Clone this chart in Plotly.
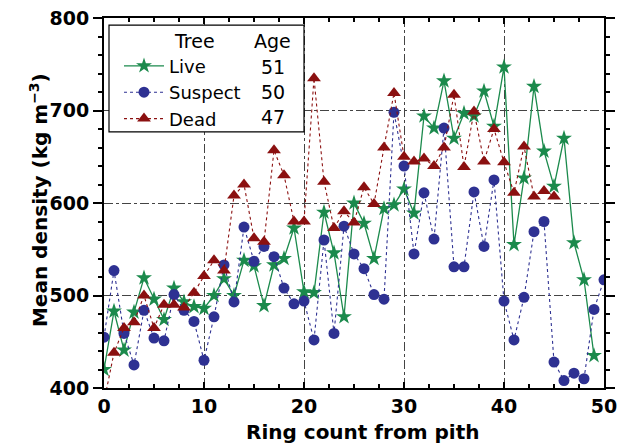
import plotly.graph_objects as go

rings_live = list(range(0, 50))
live = [420, 483, 441, 482, 519, 496, 474, 508, 493, 488,
        486, 500, 518, 500, 538, 532, 489, 533, 540, 573,
        504, 503, 590, 546, 477, 600, 578, 540, 594, 598,
        615, 589, 694, 681, 732, 670, 697, 694, 721, 683,
        747, 555, 627, 726, 656, 618, 670, 557, 517, 435]

rings_suspect = list(range(0, 51))
suspect = [455, 527, 459, 425, 484, 454, 451, 501, 484, 472,
           430, 477, 533, 493, 574, 537, 553, 542, 508, 491,
           494, 452, 560, 459, 575, 545, 529, 501, 496, 698,
           640, 545, 611, 561, 681, 531, 531, 612, 553, 625,
           494, 452, 498, 569, 580, 428, 408, 416, 410, 485, 517]

rings_dead = list(range(0, 46))
dead = [385, 438, 465, 471, 500, 465, 490, 490, 487, 503,
        521, 538, 527, 608, 620, 562, 558, 657, 630, 580,
        580, 735, 623, 573, 591, 579, 617, 599, 660, 719,
        650, 645, 648, 640, 660, 717, 639, 699, 645, 680,
        644, 611, 661, 607, 613, 607]

names = ["Live", "Suspect", "Dead"]
ages = ["51", "50", "47"]
x_title = "Ring count from pith"
y_title = "Mean density (kg m<sup>−3</sup>)"

GREEN = "#1b8a4c"
BLUE = "#2e3192"
RED = "#8b1010"

fig = go.Figure()
fig.add_trace(go.Scatter(x=rings_live, y=live, name=names[0], mode="lines+markers",
                         line=dict(color=GREEN, width=1.3),
                         marker=dict(symbol="star", size=12, color=GREEN)))
fig.add_trace(go.Scatter(x=rings_suspect, y=suspect, name=names[1], mode="lines+markers",
                         line=dict(color=BLUE, width=1.1, dash="dot"),
                         marker=dict(symbol="circle", size=11, color=BLUE)))
fig.add_trace(go.Scatter(x=rings_dead, y=dead, name=names[2], mode="lines+markers",
                         line=dict(color=RED, width=1.1, dash="dot"),
                         marker=dict(symbol="triangle-up", size=12, color=RED)))

tickfont = dict(family="DejaVu Sans", size=19, color="black", weight="bold")
grid = dict(showgrid=True, gridcolor="#444444", griddash="dashdot", gridwidth=1)

fig.update_layout(
    width=624, height=445,
    margin=dict(l=104, r=20, t=18, b=57),
    paper_bgcolor="white", plot_bgcolor="white",
    font=dict(family="DejaVu Sans", color="black"),
    xaxis=dict(range=[0, 50], dtick=10, tick0=0, ticks="inside", ticklen=6, tickwidth=1.5,
               tickcolor="black",
               tickfont=tickfont, showline=True, linecolor="black", linewidth=2, mirror="ticks",
               zeroline=False, automargin=False,
               minor=dict(dtick=2.5, ticks="inside", ticklen=4, tickcolor="black", showgrid=False),
               **grid),
    yaxis=dict(range=[400, 800], dtick=100, tick0=400, ticks="outside", ticklen=9, tickwidth=1.5,
               tickcolor="black",
               tickfont=tickfont, showline=True, linecolor="black", linewidth=2, mirror="ticks",
               zeroline=False, automargin=False,
               minor=dict(dtick=20, ticks="outside", ticklen=4, tickcolor="black", showgrid=False),
               **grid),
    showlegend=True,
    legend=dict(x=0.03, y=0.92, xanchor="left", yanchor="top",
                bgcolor="rgba(0,0,0,0)", borderwidth=0,
                font=dict(family="DejaVu Sans", size=18, color="black"),
                itemwidth=40, tracegroupgap=0),
)

title_font = dict(family="DejaVu Sans", size=20, color="black", weight="bold")
fig.add_annotation(xref="paper", yref="paper", x=0.516, y=-0.119, text=x_title, showarrow=False,
                   xanchor="center", yanchor="middle", font=title_font)
fig.add_annotation(xref="paper", yref="paper", x=-0.13, y=0.508, text=y_title, showarrow=False,
                   xanchor="center", yanchor="middle", textangle=-90, font=title_font)

# legend box
fig.add_shape(type="rect", xref="paper", yref="paper", x0=0.01, x1=0.40, y0=0.692, y1=0.981,
              line=dict(color="black", width=1.2), fillcolor="white", layer="above")

ann_font = dict(family="DejaVu Sans", size=19, color="black")
fig.add_annotation(xref="paper", yref="paper", x=0.136, y=0.938, text="Tree", showarrow=False,
                   xanchor="left", yanchor="middle", font=ann_font)
fig.add_annotation(xref="paper", yref="paper", x=0.378, y=0.938, text="Age", showarrow=False,
                   xanchor="right", yanchor="middle", font=ann_font)
row_y = [0.868, 0.80, 0.732]
for a, yy in zip(ages, row_y):
    fig.add_annotation(xref="paper", yref="paper", x=0.366, y=yy, text=a, showarrow=False,
                       xanchor="right", yanchor="middle", font=ann_font)

fig.write_html("out.html")
